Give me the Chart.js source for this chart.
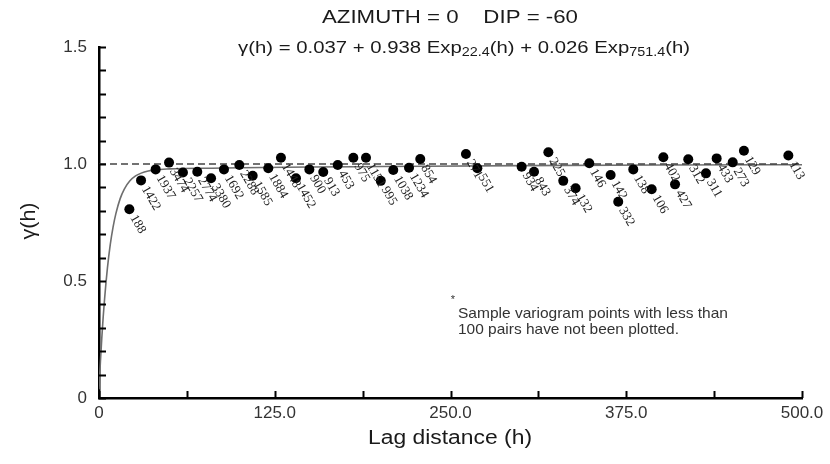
<!DOCTYPE html>
<html>
<head>
<meta charset="utf-8">
<script src="https://cdn.jsdelivr.net/npm/chart.js@4.4.1/dist/chart.umd.min.js"></script>
<style>
html,body{margin:0;padding:0;background:#fff;}
#wrap{width:830px;height:464px;position:relative;}
</style>
</head>
<body>
<div id="wrap"><canvas id="c" width="830" height="464"></canvas></div>
<script>
// Sample variogram points (lag, gamma) and number of pairs
const lags = [21.6, 29.9, 40.3, 49.8, 59.7, 69.9, 79.7, 88.9, 99.8, 109.3,
              120.4, 129.4, 140.1, 149.6, 159.5, 169.8, 180.9, 189.9, 200.4, 209.3,
              220.5, 228.5, 261.0, 269.1, 300.6, 309.4, 319.6, 330.2, 339.0, 348.7,
              363.9, 369.3, 380.0, 393.1, 401.4, 409.7, 419.1, 431.7, 439.3, 450.7,
              458.7, 490.3];
const gammas = [0.807, 0.930, 0.977, 1.006, 0.964, 0.967, 0.939, 0.977, 0.996, 0.950,
                0.982, 1.027, 0.939, 0.977, 0.966, 0.996, 1.027, 1.027, 0.928, 0.974,
                0.984, 1.021, 1.043, 0.982, 0.988, 0.967, 1.050, 0.928, 0.896, 1.003,
                0.953, 0.839, 0.977, 0.892, 1.029, 0.913, 1.020, 0.960, 1.024, 1.007,
                1.057, 1.036];
const pairs = ["188", "1422", "1937", "3474", "2257", "2774", "3380", "1692", "2288", "1585",
               "1884", "1448", "1452", "900", "913", "453", "975", "1151", "995", "1038",
               "1234", "854", "271", "551", "934", "843", "225", "374", "132", "146",
               "142", "332", "138", "106", "402", "427", "312", "311", "433", "273",
               "129", "113"];
// Fitted model curve
const modelLags = [0, 1, 2, 3, 4, 5, 6, 8, 10, 12, 15, 18, 22, 26, 30, 35, 40, 50, 60, 80, 100, 150, 200, 300, 400, 500];
const modelGamma = [0.037, 0.155, 0.258, 0.348, 0.426, 0.495, 0.556, 0.655, 0.730, 0.788, 0.851, 0.893, 0.928, 0.949, 0.961, 0.970, 0.975, 0.979, 0.981, 0.982, 0.984, 0.987, 0.989, 0.993, 0.996, 0.997];
// Sill reference line
const sillLags = [0, 500];
const sillValues = [1.0, 1.0];
// Axis ticks
const xLabelTicks = [0, 125, 250, 375, 500];
const yLabelTicks = [0, 0.5, 1.0, 1.5];

const FONT = '"Liberation Sans", Arial, sans-serif';

const pts = lags.map((x, i) => ({x: x, y: gammas[i]}));
const model = modelLags.map((x, i) => ({x: x, y: modelGamma[i]}));
const sill = sillLags.map((x, i) => ({x: x, y: sillValues[i]}));

function drawFit(ctx, text, x, y, font, width, align) {
  ctx.font = font;
  const w = ctx.measureText(text).width;
  const sx = width / w;
  ctx.save();
  ctx.translate(x, y);
  ctx.scale(sx, 1);
  ctx.textAlign = align;
  ctx.fillText(text, 0, 0);
  ctx.restore();
}

const decor = {
  id: 'decor',
  afterDatasetsDraw(chart) {
    const ctx = chart.ctx;
    const area = chart.chartArea;
    const xs = chart.scales.x, ys = chart.scales.y;
    // inward tick marks
    ctx.save();
    ctx.strokeStyle = '#000';
    ctx.lineWidth = 2;
    ys.ticks.forEach(t => {
      const py = Math.round(ys.getPixelForValue(t.value)) + 0.5;
      ctx.beginPath(); ctx.moveTo(area.left, py); ctx.lineTo(area.left + 7, py); ctx.stroke();
    });
    xs.ticks.forEach(t => {
      const px = Math.round(xs.getPixelForValue(t.value)) + 0.5;
      ctx.beginPath(); ctx.moveTo(px, area.bottom); ctx.lineTo(px, area.bottom - 7); ctx.stroke();
    });
    ctx.restore();

    // pair-count labels
    const meta = chart.getDatasetMeta(0);
    ctx.save();
    ctx.fillStyle = '#222';
    ctx.font = '13px "Liberation Serif", "Times New Roman", serif';
    ctx.textAlign = 'left';
    ctx.textBaseline = 'middle';
    meta.data.forEach((el, i) => {
      ctx.save();
      ctx.translate(el.x + 2, el.y + 4);
      ctx.rotate(60 * Math.PI / 180);
      ctx.fillText(pairs[i], 3, 0);
      ctx.restore();
    });
    ctx.restore();
  },
  afterDraw(chart) {
    const ctx = chart.ctx;
    ctx.save();
    ctx.fillStyle = '#1a1a1a';
    ctx.textBaseline = 'middle';
    // Title
    drawFit(ctx, 'AZIMUTH = 0    DIP = -60', 322, 18, '19px ' + FONT, 256, 'left');
    // Formula with subscripts, stretched to the reference width
    const parts = [
      ['\u03B3(h) = 0.037 + 0.938 Exp', false],
      ['22.4', true],
      ['(h) + 0.026 Exp', false],
      ['751.4', true],
      ['(h)', false]
    ];
    const mainF = '17px ' + FONT, subF = '12px ' + FONT;
    let total = 0;
    parts.forEach(p => { ctx.font = p[1] ? subF : mainF; total += ctx.measureText(p[0]).width; });
    const sx = 452 / total;
    ctx.save();
    ctx.translate(238, 0);
    ctx.scale(sx, 1);
    ctx.textAlign = 'left';
    let x = 0;
    parts.forEach(p => {
      ctx.font = p[1] ? subF : mainF;
      ctx.fillText(p[0], x, p[1] ? 53 : 48);
      x += ctx.measureText(p[0]).width;
    });
    ctx.restore();
    // Axis titles
    drawFit(ctx, 'Lag distance (h)', 450, 438, '20px ' + FONT, 164, 'center');
    ctx.save();
    ctx.translate(29, 221);
    ctx.rotate(-Math.PI / 2);
    drawFit(ctx, '\u03B3(h)', 0, 0, '21px ' + FONT, 37, 'center');
    ctx.restore();
    // Note
    ctx.fillStyle = '#333';
    ctx.font = '11px ' + FONT;
    ctx.textAlign = 'center';
    ctx.fillText('*', 453, 300);
    drawFit(ctx, 'Sample variogram points with less than', 458, 314, '14.5px ' + FONT, 270, 'left');
    drawFit(ctx, '100 pairs have not been plotted.', 458, 330, '14.5px ' + FONT, 221, 'left');
    ctx.restore();
  }
};

new Chart(document.getElementById('c'), {
  type: 'scatter',
  data: {
    datasets: [
      {
        label: 'Sample variogram',
        data: pts,
        pointRadius: 5,
        pointHoverRadius: 5,
        pointBackgroundColor: '#000',
        pointBorderColor: '#000',
        pointBorderWidth: 0,
        showLine: false,
        order: 0
      },
      {
        label: 'Sill',
        data: sill,
        showLine: true,
        pointRadius: 0,
        borderColor: '#444',
        borderWidth: 1.6,
        borderDash: [7, 4],
        order: 1
      },
      {
        label: 'Model',
        data: model,
        showLine: true,
        pointRadius: 0,
        borderColor: '#6e6e6e',
        borderWidth: 1.6,
        cubicInterpolationMode: 'monotone',
        order: 2
      }
    ]
  },
  options: {
    responsive: false,
    animation: false,
    events: [],
    layout: {padding: {left: 0, right: 28, top: 47, bottom: 0}},
    plugins: {legend: {display: false}, tooltip: {enabled: false}, title: {display: false}},
    scales: {
      x: {
        type: 'linear',
        min: 0, max: 500,
        afterFit: s => { s.height = 66; },
        grid: {display: false, drawTicks: false},
        border: {display: true, color: '#000', width: 2.5},
        ticks: {
          stepSize: 62.5,
          autoSkip: false,
          maxRotation: 0,
          padding: 5,
          color: '#333',
          font: {family: FONT, size: 17},
          callback: v => xLabelTicks.includes(v) ? (v === 0 ? '0' : v.toFixed(1)) : ''
        }
      },
      y: {
        type: 'linear',
        min: 0, max: 1.5,
        afterFit: s => { s.width = 99; },
        grid: {display: false, drawTicks: false},
        border: {display: true, color: '#000', width: 2.5},
        ticks: {
          stepSize: 0.1,
          autoSkip: false,
          padding: 12,
          color: '#333',
          font: {family: FONT, size: 17},
          callback: v => {
            const r = Math.round(v * 10) / 10;
            if (!yLabelTicks.includes(r)) return '';
            return r === 0 ? '0' : r.toFixed(1);
          }
        }
      }
    }
  },
  plugins: [decor]
});
</script>
</body>
</html>
